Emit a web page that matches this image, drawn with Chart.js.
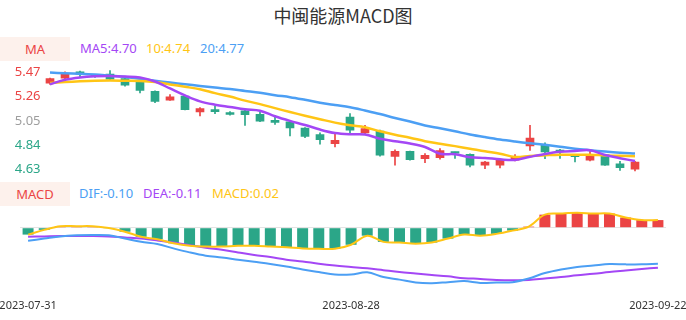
<!DOCTYPE html>
<html><head><meta charset="utf-8">
<script src="https://cdn.jsdelivr.net/npm/chart.js@4"></script>
<style>
body{margin:0;width:686px;height:320px;position:relative;background:#fff;overflow:hidden;font-family:"Noto Sans",sans-serif}
.abs{position:absolute}
#title{left:0;width:686px;top:4px;text-align:center;font-family:"Noto Sans CJK SC";font-size:18px;color:#333;line-height:22px}
.badge{left:0;width:70px;height:24px;background:#fdf1ec;color:#eb4444;font-size:13px;line-height:24px;text-align:center}
.leg{font-size:13px;line-height:24px;white-space:nowrap;height:24px}
canvas{position:absolute;left:0}
</style></head>
<body>
<div id="title" class="abs">中闽能源MACD图</div>
<div class="abs badge" style="top:37px">MA</div>
<div class="abs leg" id="l5" style="top:36px;left:80px"></div>
<div class="abs leg" id="l10" style="top:36px;left:146px"></div>
<div class="abs leg" id="l20" style="top:36px;left:200px"></div>
<div class="abs badge" style="top:182px">MACD</div>
<div class="abs leg" id="ldif" style="top:181px;left:79px"></div>
<div class="abs leg" id="ldea" style="top:181px;left:143px"></div>
<div class="abs leg" id="lmacd" style="top:181px;left:212px"></div>
<canvas id="k" width="686" height="120" style="top:60px"></canvas>
<canvas id="m" width="686" height="120" style="top:200px"></canvas>
<script>
const dates = ["2023-07-31","2023-08-01","2023-08-02","2023-08-03","2023-08-04","2023-08-07","2023-08-08","2023-08-09","2023-08-10","2023-08-11","2023-08-14","2023-08-15","2023-08-16","2023-08-17","2023-08-18","2023-08-21","2023-08-22","2023-08-23","2023-08-24","2023-08-25","2023-08-28","2023-08-29","2023-08-30","2023-08-31","2023-09-01","2023-09-04","2023-09-05","2023-09-06","2023-09-07","2023-09-08","2023-09-11","2023-09-12","2023-09-13","2023-09-14","2023-09-15","2023-09-18","2023-09-19","2023-09-20","2023-09-21","2023-09-22"];
const open  = [5.375,5.42,5.473,5.445,5.455,5.415,5.392,5.306,5.228,5.265,5.127,5.147,5.121,5.136,5.107,5.055,5.041,4.989,4.931,4.853,5.084,4.946,4.963,4.744,4.787,4.724,4.733,4.775,4.761,4.667,4.667,4.71,4.833,4.84,4.795,4.75,4.71,4.758,4.68,4.632];
const close = [5.415,5.453,5.453,5.44,5.41,5.358,5.314,5.219,5.257,5.147,5.156,5.13,5.106,5.104,5.047,5.037,4.99,4.917,4.888,4.882,4.969,4.983,4.753,4.787,4.715,4.753,4.794,4.771,4.667,4.695,4.71,4.738,4.902,4.782,4.785,4.74,4.753,4.667,4.645,4.695];
const high  = [5.42,5.473,5.48,5.45,5.484,5.418,5.395,5.31,5.277,5.268,5.164,5.176,5.13,5.15,5.127,5.098,5.045,4.992,4.946,4.94,5.114,5.012,4.97,4.801,4.79,4.767,4.81,4.78,4.765,4.7,4.715,4.758,5.012,4.86,4.805,4.752,4.796,4.762,4.7,4.7];
const low   = [5.365,5.395,5.423,5.425,5.405,5.349,5.291,5.207,5.226,5.145,5.092,5.112,5.1,5.012,5.043,5.02,4.92,4.905,4.848,4.825,4.94,4.931,4.745,4.667,4.71,4.689,4.72,4.725,4.652,4.637,4.643,4.705,4.796,4.723,4.725,4.695,4.705,4.665,4.623,4.617];
const ma5  = [5.366,5.405,5.425,5.435,5.438,5.433,5.425,5.39,5.33,5.27,5.219,5.19,5.17,5.15,5.138,5.09,5.05,5.015,4.975,4.945,4.934,4.932,4.896,4.875,4.855,4.825,4.767,4.762,4.737,4.73,4.718,4.713,4.74,4.765,4.783,4.79,4.796,4.755,4.728,4.703];
const ma10 = [5.377,5.385,5.392,5.397,5.399,5.397,5.394,5.385,5.365,5.345,5.323,5.29,5.26,5.225,5.195,5.16,5.127,5.095,5.065,5.035,5.012,4.995,4.96,4.93,4.905,4.875,4.853,4.832,4.81,4.787,4.767,4.738,4.747,4.753,4.758,4.758,4.758,4.752,4.748,4.744];
const ma20 = [5.467,5.462,5.457,5.45,5.44,5.43,5.413,5.397,5.381,5.367,5.352,5.338,5.325,5.309,5.293,5.272,5.255,5.232,5.207,5.187,5.168,5.14,5.11,5.075,5.045,5.01,4.986,4.96,4.933,4.91,4.889,4.872,4.857,4.843,4.827,4.81,4.797,4.785,4.775,4.768];
const dif  = [-0.036,-0.030,-0.024,-0.021,-0.020,-0.021,-0.030,-0.039,-0.045,-0.057,-0.068,-0.077,-0.082,-0.088,-0.094,-0.100,-0.107,-0.115,-0.122,-0.129,-0.129,-0.123,-0.136,-0.143,-0.151,-0.153,-0.150,-0.147,-0.152,-0.151,-0.150,-0.140,-0.125,-0.115,-0.108,-0.104,-0.100,-0.101,-0.101,-0.099];
const dea  = [-0.025,-0.024,-0.023,-0.023,-0.023,-0.024,-0.027,-0.030,-0.035,-0.041,-0.048,-0.055,-0.061,-0.068,-0.075,-0.081,-0.088,-0.093,-0.099,-0.104,-0.108,-0.112,-0.117,-0.122,-0.126,-0.130,-0.134,-0.139,-0.141,-0.144,-0.145,-0.144,-0.140,-0.136,-0.131,-0.127,-0.122,-0.118,-0.114,-0.110];
const macd = [-0.019,-0.006,0.004,0.004,0.004,-0.001,-0.011,-0.025,-0.032,-0.043,-0.050,-0.052,-0.052,-0.050,-0.050,-0.052,-0.054,-0.057,-0.058,-0.058,-0.047,-0.022,-0.039,-0.041,-0.044,-0.041,-0.030,-0.019,-0.022,-0.017,-0.008,0.003,0.036,0.039,0.041,0.039,0.039,0.028,0.021,0.021];
const priceTicks = [5.47,5.26,5.05,4.84,4.63];
const dateTickIdx = [0,20,39];

const RED='#eb4444', GREEN='#2ba688', PURPLE='#a447f5', YELLOW='#ffc515', BLUE='#4c9ff4', GRAY='#9e9e9e';
const last = a => a[a.length-1];
function setLeg(id, txt, col){const e=document.getElementById(id);e.textContent=txt;e.style.color=col;}
setLeg('l5','MA5:'+last(ma5).toFixed(2),PURPLE);
setLeg('l10','10:'+last(ma10).toFixed(2),YELLOW);
setLeg('l20','20:'+last(ma20).toFixed(2),BLUE);
setLeg('ldif','DIF:'+last(dif).toFixed(2),BLUE);
setLeg('ldea','DEA:'+last(dea).toFixed(2),PURPLE);
setLeg('lmacd','MACD:'+last(macd).toFixed(2),YELLOW);

Chart.defaults.font.family = '"Noto Sans", sans-serif';
const candleCol = dates.map((d,i)=> close[i]>=open[i]?RED:GREEN);
const lineDs = (data,col,w)=>({type:'line',data,borderColor:col,borderWidth:w,pointRadius:0,tension:0.35,fill:false,order:0});

new Chart(document.getElementById('k'), {
  type:'bar',
  data:{labels:dates, datasets:[
    lineDs(ma5,PURPLE,2.5), lineDs(ma10,YELLOW,2.5), lineDs(ma20,BLUE,2.5),
    {data:dates.map((d,i)=>[low[i],high[i]]), backgroundColor:candleCol, barThickness:1, grouped:false, order:2},
    {data:dates.map((d,i)=>[Math.min(open[i],close[i]),Math.max(open[i],close[i])]), backgroundColor:candleCol, barThickness:8, minBarLength:1.5, grouped:false, order:1}
  ]},
  options:{responsive:false, animation:false, events:[], devicePixelRatio:1,
    layout:{padding:{left:0,right:43.5,top:0,bottom:0}},
    plugins:{legend:{display:false},tooltip:{enabled:false}},
    scales:{
      x:{display:false, offset:true},
      y:{min:4.5395, max:5.576, grid:{display:false,drawTicks:false}, border:{display:false},
        afterBuildTicks:s=>{s.ticks=priceTicks.map(v=>({value:v}));},
        afterFit:s=>{s.width=42.5;s.paddingTop=0;s.paddingBottom=0;},
        ticks:{padding:2, font:{size:13}, callback:v=>Number(v).toFixed(2),
          color:c=> c.tick.value>5.1?RED:(c.tick.value>5.0?GRAY:GREEN)}}
    }}
});

new Chart(document.getElementById('m'), {
  type:'bar',
  data:{labels:dates, datasets:[
    lineDs(macd,YELLOW,2), lineDs(dif,BLUE,2), lineDs(dea,PURPLE,2),
    {data:macd, backgroundColor:macd.map(v=>v>=0?RED:GREEN), barPercentage:0.68, categoryPercentage:1, order:1}
  ]},
  options:{responsive:false, animation:false, events:[], devicePixelRatio:1,
    layout:{padding:{left:20,right:20,top:0,bottom:0}},
    plugins:{legend:{display:false},tooltip:{enabled:false}},
    scales:{
      x:{offset:true, grid:{display:false,drawTicks:false}, border:{display:false},
        afterFit:s=>{s.height=30;s.paddingLeft=0;s.paddingRight=0;},
        ticks:{autoSkip:false, maxRotation:0, minRotation:0, padding:9, font:{size:11}, color:'#333',
          callback:(v,i)=> dateTickIdx.includes(i)?dates[i]:''}},
      y:{min:-0.1716, max:0.0763, border:{display:false},
        grid:{drawTicks:false, color:'#e3e3e3', lineWidth:1},
        afterBuildTicks:s=>{s.ticks=[{value:0}];},
        afterFit:s=>{s.width=0;},
        ticks:{display:false}}
    }}
});
</script>
</body></html>
